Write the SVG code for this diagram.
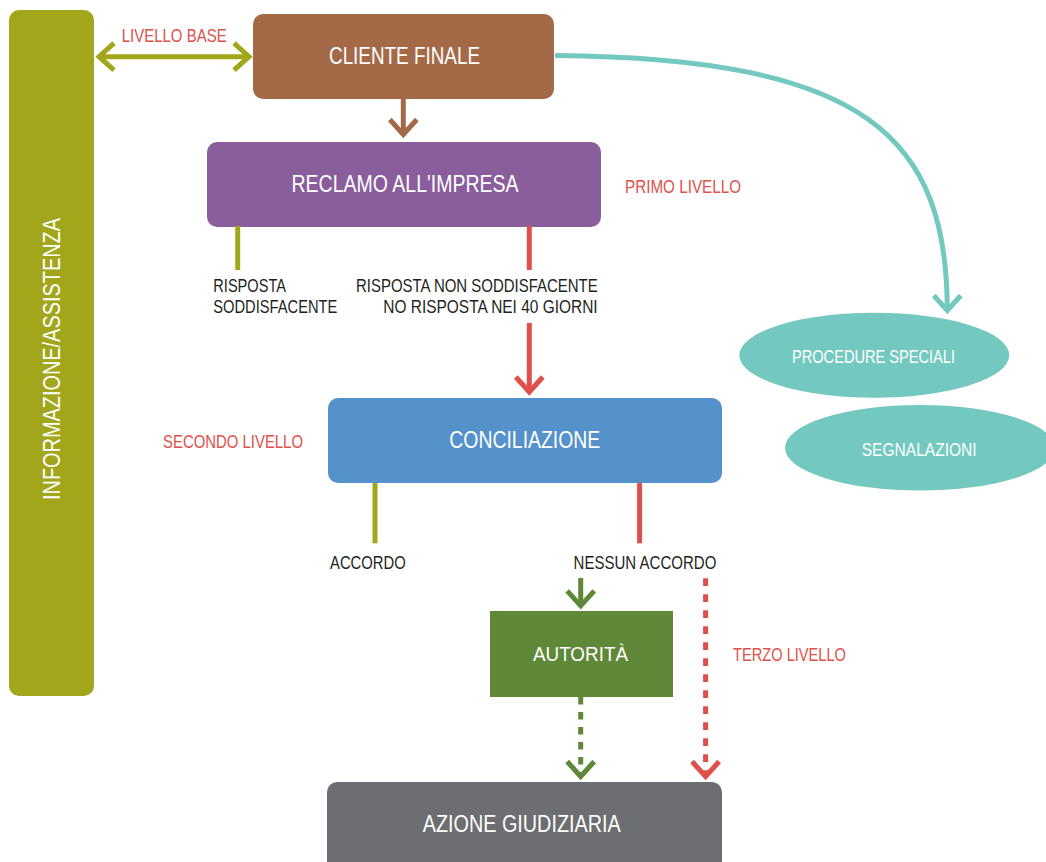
<svg xmlns="http://www.w3.org/2000/svg" width="1046" height="862" viewBox="0 0 1046 862">
<style>
text{font-family:"Liberation Sans",Arial,sans-serif;lengthAdjust:spacingAndGlyphs}
.w{fill:#ffffff}
.t{font-size:23px}
.r{fill:#e0504a;font-size:18.5px}
.k{fill:#231f20;font-size:17.5px}
.e{font-size:18.5px}
.ln{fill:none;stroke-width:5}
</style>
<defs>
<marker id="m-olive" markerUnits="userSpaceOnUse" markerWidth="40" markerHeight="40" refX="0" refY="0" orient="auto-start-reverse" overflow="visible"><path d="M-15,-13.5 L0,0 L-15,13.5" fill="none" stroke="#a2a61a" stroke-width="5"/></marker>
<marker id="m-brown" markerUnits="userSpaceOnUse" markerWidth="40" markerHeight="40" refX="0" refY="0" orient="auto" overflow="visible"><path d="M-15,-13.5 L0,0 L-15,13.5" fill="none" stroke="#a46a48" stroke-width="5"/></marker>
<marker id="m-red" markerUnits="userSpaceOnUse" markerWidth="40" markerHeight="40" refX="0" refY="0" orient="auto" overflow="visible"><path d="M-15,-13.5 L0,0 L-15,13.5" fill="none" stroke="#e0504a" stroke-width="5"/></marker>
<marker id="m-green" markerUnits="userSpaceOnUse" markerWidth="40" markerHeight="40" refX="0" refY="0" orient="auto" overflow="visible"><path d="M-15,-13.5 L0,0 L-15,13.5" fill="none" stroke="#5f8838" stroke-width="5"/></marker>
<marker id="m-teal" markerUnits="userSpaceOnUse" markerWidth="40" markerHeight="40" refX="0" refY="0" orient="auto" overflow="visible"><path d="M-15,-13.5 L0,0 L-15,13.5" fill="none" stroke="#73c9bf" stroke-width="5"/></marker>
</defs>

<g id="node-informazione">
<rect x="9" y="10" width="85" height="686" rx="10" fill="#a2a61a"/>
<text class="w t" transform="translate(60,500) rotate(-90)" x="0" y="0" textLength="282" lengthAdjust="spacingAndGlyphs">INFORMAZIONE/ASSISTENZA</text>
</g>

<g id="node-cliente">
<rect x="253" y="14" width="301" height="85" rx="10" fill="#a46a48"/>
<text class="w t" x="329" y="64.3" textLength="151" lengthAdjust="spacingAndGlyphs">CLIENTE FINALE</text>
</g>

<g id="node-reclamo">
<rect x="207" y="142" width="394" height="85" rx="10" fill="#8a5d9d"/>
<text class="w t" x="291.5" y="191.7" textLength="227" lengthAdjust="spacingAndGlyphs">RECLAMO ALL'IMPRESA</text>
</g>

<g id="node-conciliazione">
<rect x="328" y="398" width="394" height="85" rx="10" fill="#5591cb"/>
<text class="w t" x="449.3" y="447.7" textLength="151" lengthAdjust="spacingAndGlyphs">CONCILIAZIONE</text>
</g>

<g id="node-autorita">
<rect x="490" y="611" width="183" height="86" fill="#5f8838"/>
<text class="w" style="font-size:21px" x="533" y="660.7" textLength="95" lengthAdjust="spacingAndGlyphs">AUTORITÀ</text>
</g>

<g id="node-azione">
<rect x="327" y="782" width="395" height="100" rx="10" fill="#6d6e71"/>
<text class="w t" x="422.7" y="831.7" textLength="198" lengthAdjust="spacingAndGlyphs">AZIONE GIUDIZIARIA</text>
</g>

<g id="node-procedure">
<ellipse cx="874.3" cy="355.2" rx="135" ry="42.5" fill="#73c9bf"/>
<text class="w e" x="792" y="362.7" textLength="163" lengthAdjust="spacingAndGlyphs">PROCEDURE SPECIALI</text>
</g>

<g id="node-segnalazioni">
<ellipse cx="920" cy="447.8" rx="135" ry="42.8" fill="#73c9bf"/>
<text class="w e" x="861.7" y="455.7" textLength="115" lengthAdjust="spacingAndGlyphs">SEGNALAZIONI</text>
</g>

<g id="connectors">
<path class="ln" stroke="#a2a61a" d="M99,56.7 L249,56.7" marker-start="url(#m-olive)" marker-end="url(#m-olive)"/>
<path class="ln" stroke="#a46a48" d="M403.3,98 L403.3,134.5" marker-end="url(#m-brown)"/>
<path class="ln" stroke="#73c9bf" d="M555,55.5 C870,58 947,140 947.3,310.5" marker-end="url(#m-teal)"/>
<path class="ln" stroke="#a2a61a" d="M237.7,226 L237.7,270"/>
<path class="ln" stroke="#e0504a" d="M529.3,226 L529.3,270"/>
<path class="ln" stroke="#e0504a" d="M529.3,323 L529.3,392" marker-end="url(#m-red)"/>
<path class="ln" stroke="#a2a61a" d="M375,483 L375,543.3"/>
<path class="ln" stroke="#e0504a" d="M639.6,483 L639.6,543.3"/>
<path class="ln" stroke="#5f8838" d="M580.7,578 L580.7,605.8" marker-end="url(#m-green)"/>
<path class="ln" stroke="#5f8838" stroke-dasharray="7.5 7.5" d="M580.7,697 L580.7,776.5" marker-end="url(#m-green)"/>
<path class="ln" stroke="#e0504a" stroke-dasharray="7.7 8.3" d="M705.6,578.3 L705.6,776.5" marker-end="url(#m-red)"/>
</g>

<g id="labels">
<text class="r" x="121.7" y="42.3" textLength="105" lengthAdjust="spacingAndGlyphs">LIVELLO BASE</text>
<text class="r" x="625" y="192.7" textLength="116" lengthAdjust="spacingAndGlyphs">PRIMO LIVELLO</text>
<text class="r" x="163" y="447.7" textLength="140" lengthAdjust="spacingAndGlyphs">SECONDO LIVELLO</text>
<text class="r" x="733" y="661" textLength="113" lengthAdjust="spacingAndGlyphs">TERZO LIVELLO</text>
<text class="k" x="213.3" y="291.7" textLength="72.7" lengthAdjust="spacingAndGlyphs">RISPOSTA</text>
<text class="k" x="213.3" y="313.3" textLength="124" lengthAdjust="spacingAndGlyphs">SODDISFACENTE</text>
<text class="k" x="356" y="291.7" textLength="241.7" lengthAdjust="spacingAndGlyphs">RISPOSTA NON SODDISFACENTE</text>
<text class="k" x="383.3" y="313.3" textLength="214.3" lengthAdjust="spacingAndGlyphs">NO RISPOSTA NEI 40 GIORNI</text>
<text class="k" x="330" y="569.3" textLength="75.7" lengthAdjust="spacingAndGlyphs">ACCORDO</text>
<text class="k" x="573.6" y="569.3" textLength="142.8" lengthAdjust="spacingAndGlyphs">NESSUN ACCORDO</text>
</g>
</svg>
